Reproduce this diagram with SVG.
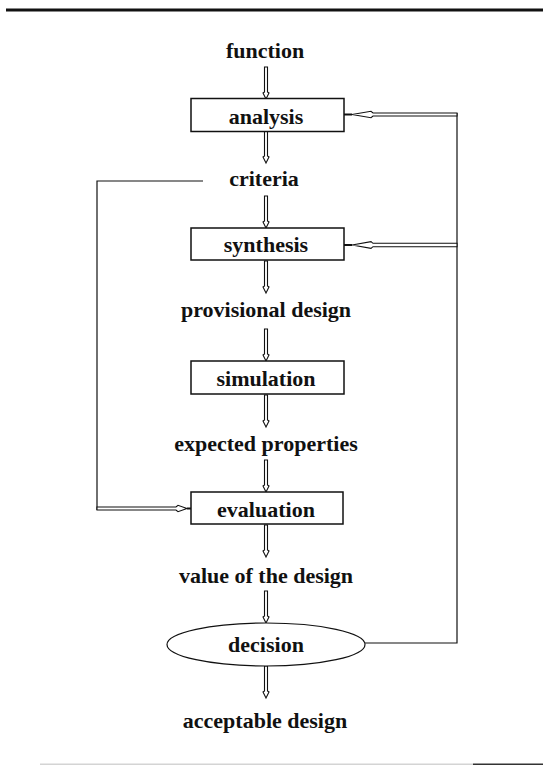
<svg xmlns="http://www.w3.org/2000/svg" width="543" height="765" viewBox="0 0 543 765">
  <style>
    .t { font-family: "Liberation Serif", "Times New Roman", serif; font-size: 22px; font-weight: bold; fill: #111; text-anchor: middle; }
    .box { fill: #fff; stroke: #111; stroke-width: 1.5; }
    .arr { fill: #fff; stroke: #111; stroke-width: 1.1; stroke-linejoin: miter; }
    .ln { fill: none; stroke: #111; stroke-width: 1.2; }
  </style>
  <defs>
    <!-- hollow double-line down arrow, 32px long, tip at (0,0) -->
    <path id="down" class="arr" d="M-1.5,-32 V-7 L-3,-6 L0,0 L3,-6 L1.5,-7 V-32 Z"/>
  </defs>

  <rect width="543" height="765" fill="#fff"/>
  <!-- page rules -->
  <rect x="6" y="8.5" width="537" height="3" fill="#111"/>
  <rect x="40" y="763.5" width="433" height="1.5" fill="#d4d4d4"/>
  <rect x="473" y="763.5" width="70" height="1.5" fill="#333"/>

  <g id="connectors">
    <use href="#down" x="266" y="99"/>
    <use href="#down" x="266" y="163"/>
    <use href="#down" x="266" y="228"/>
    <use href="#down" x="266" y="293"/>
    <use href="#down" x="266" y="361"/>
    <use href="#down" x="266" y="427"/>
    <use href="#down" x="266" y="492"/>
    <use href="#down" x="266" y="557"/>
    <use href="#down" x="266" y="623"/>
    <use href="#down" x="266" y="698"/>

    <!-- feedback from decision to analysis and synthesis -->
    <path class="ln" d="M365,643 H457 V113"/>
    <path class="arr" d="M457,113 H373 L371,111.3 L352,114.5 L371,117.7 L373,116 H457 Z"/>
    <path class="ln" d="M352,114.5 H344" style="stroke-width:2"/>
    <path class="arr" d="M457,243.3 H373 L371,241.6 L352,245 L371,248.4 L373,246.7 H457 Z"/>
    <path class="ln" d="M352,245 H344" style="stroke-width:2"/>

    <!-- criteria to evaluation -->
    <path class="ln" d="M203,181 H97 V510"/>
    <path class="arr" d="M97,507 H176 L178,505.3 L187,508.5 L178,511.7 L176,510 H97 Z"/>
    <path class="ln" d="M187,508.5 H191" style="stroke-width:2"/>
  </g>

  <g id="function"><text class="t" x="265" y="58">function</text></g>
  <g id="analysis">
    <rect class="box" x="191" y="98.5" width="153" height="33"/>
    <text class="t" x="266" y="124">analysis</text>
  </g>
  <g id="criteria"><text class="t" x="264" y="186">criteria</text></g>
  <g id="synthesis">
    <rect class="box" x="191" y="228" width="153" height="32"/>
    <text class="t" x="266" y="252">synthesis</text>
  </g>
  <g id="provisional-design"><text class="t" x="266" y="317">provisional design</text></g>
  <g id="simulation">
    <rect class="box" x="191" y="361" width="153" height="33"/>
    <text class="t" x="266" y="386">simulation</text>
  </g>
  <g id="expected-properties"><text class="t" x="266" y="451">expected properties</text></g>
  <g id="evaluation">
    <rect class="box" x="191" y="492" width="152" height="32"/>
    <text class="t" x="266" y="517">evaluation</text>
  </g>
  <g id="value-of-the-design"><text class="t" x="266" y="583">value of the design</text></g>
  <g id="decision">
    <ellipse class="box" cx="266" cy="644.5" rx="99" ry="21.5" style="stroke-width:1.2"/>
    <text class="t" x="266" y="652">decision</text>
  </g>
  <g id="acceptable-design"><text class="t" x="265" y="728">acceptable design</text></g>
</svg>
